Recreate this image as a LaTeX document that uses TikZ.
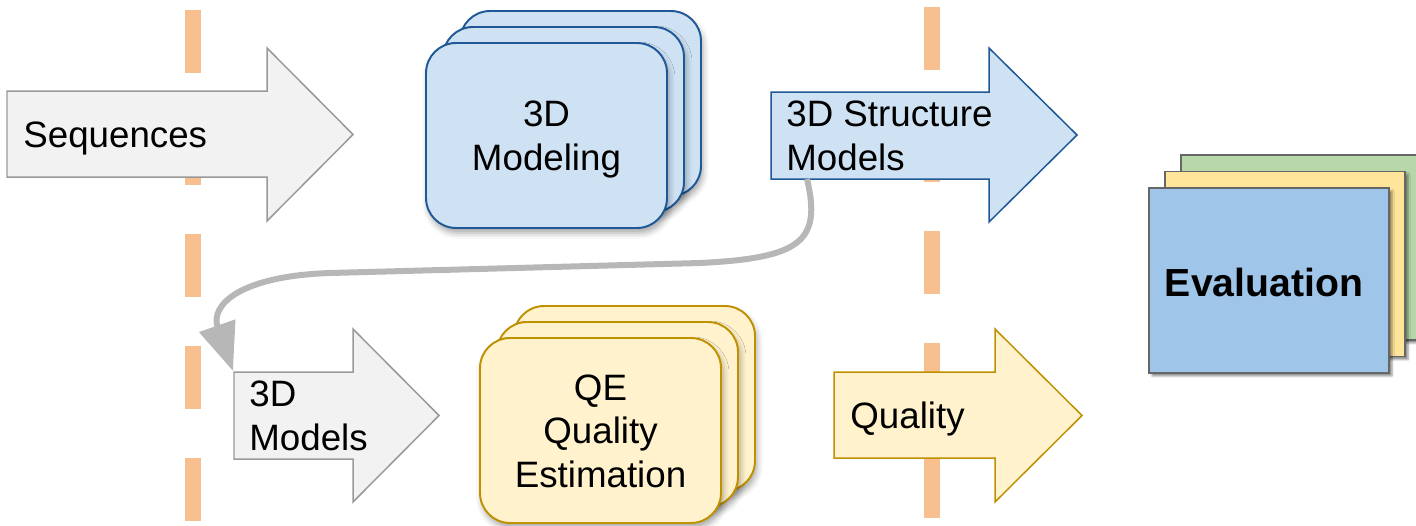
\documentclass[tikz,border=0pt]{standalone}
\usepackage{fontspec}
\setmainfont{Liberation Sans}
\usetikzlibrary{shadows.blur, arrows.meta}
\definecolor{dashor}{RGB}{249,192,143}
\definecolor{grayfill}{RGB}{242,242,242}
\definecolor{grayline}{RGB}{153,153,153}
\definecolor{bluefill}{RGB}{207,226,243}
\definecolor{blueline}{RGB}{30,88,150}
\definecolor{yelfill}{RGB}{255,242,204}
\definecolor{yelline}{RGB}{191,144,0}
\definecolor{evblue}{RGB}{159,197,232}
\definecolor{evyellow}{RGB}{255,229,153}
\definecolor{evgreen}{RGB}{182,215,168}
\definecolor{evline}{RGB}{102,102,102}
\definecolor{curvegray}{RGB}{183,183,183}
\begin{document}
\begin{tikzpicture}[x=0.02cm, y=-0.02cm,
  lab/.style={font=\fontsize{20.9}{24.5}\selectfont, inner sep=0pt, align=left},
  labc/.style={lab, align=center},
  fatarrow/.style={line width=0.85pt, line join=miter},
  grayarrow/.style={fatarrow, draw=grayline, fill=grayfill},
  bluearrow/.style={fatarrow, draw=blueline, fill=bluefill},
  yelarrow/.style={fatarrow, draw=yelline, fill=yelfill},
  card/.style={rounded corners=0.6cm, line width=1.1pt, minimum width=4.82cm,
    minimum height=3.7cm, inner sep=0pt,
    blur shadow={shadow xshift=0.04cm, shadow yshift=-0.1cm, shadow blur radius=0.12cm, shadow opacity=35}},
  bluecard/.style={card, draw=blueline, fill=bluefill},
  yelcard/.style={card, draw=yelline, fill=yelfill},
  evrect/.style={line width=1.1pt, draw=evline, minimum width=4.8cm, minimum height=3.7cm, inner sep=0pt,
    blur shadow={shadow xshift=0.06cm, shadow yshift=-0.06cm, shadow blur radius=0.04cm, shadow opacity=45}},
  orangedash/.style={draw=dashor, line width=0.32cm, dash pattern=on 1.27cm off 0.97cm},
  backcurve/.style={draw=curvegray, line width=0.12cm, -{Triangle[length=0.96cm, width=0.74cm]}},
]
\useasboundingbox (0,0) rectangle (1416,525);

% dashed orange separators
\coordinate (d1top) at (193,10);
\coordinate (d1bot) at (193,522);
\coordinate (d2top) at (932,7);
\coordinate (d2bot) at (932,520);
\draw[orangedash] (d1top) -- (d1bot);
\draw[orangedash] (d2top) -- (d2bot);

% Sequences arrow
\draw[grayarrow] (7,91) -- (267,91) -- (267,48) -- (353,134.5) -- (267,221) -- (267,177) -- (7,177) -- cycle;
\node[lab, anchor=base west] (seq) at (23,147) {Sequences};

% 3D Modeling stack
\node[bluecard] (mod3) at (580.5,103.5) {};
\node[bluecard] (mod2) at (563.5,119.5) {};
\node[bluecard] (mod1) at (546.5,135.5) {};
\node[labc, anchor=base] (modt) at (546.5,170) {3D\\Modeling};

% 3D Structure Models arrow
\draw[bluearrow] (771,92) -- (989,92) -- (989,48) -- (1077,135) -- (989,222) -- (989,179) -- (771,179) -- cycle;
\node[lab, anchor=base west] (smt) at (786,170) {3D Structure\\Models};

% 3D Models arrow
\draw[grayarrow] (234,372) -- (353,372) -- (353,329) -- (439,415.5) -- (353,502) -- (353,459) -- (234,459) -- cycle;
\node[lab, anchor=base west] (mdt) at (249,450) {3D\\Models};

% QE stack
\node[yelcard] (qe3) at (634.5,398.5) {};
\node[yelcard] (qe2) at (617.5,414.5) {};
\node[yelcard] (qe1) at (600.5,430.5) {};
\node[labc, anchor=base] (qet) at (600.5,487) {QE\\Quality\\Estimation};

% Quality arrow
\draw[yelarrow] (834,372) -- (995,372) -- (995,329) -- (1082,415.5) -- (995,502) -- (995,458) -- (834,458) -- cycle;
\node[lab, anchor=base west] (qt) at (850,428) {Quality};

% Evaluation stack
\node[evrect, fill=evgreen] (ev3) at (1301,247.5) {};
\node[evrect, fill=evyellow] (ev2) at (1285,264) {};
\node[evrect, fill=evblue] (ev1) at (1269,280.5) {};
\node[font=\bfseries\fontsize{22.3}{26}\selectfont, inner sep=0pt, anchor=base] (evt) at (1264,296) {Evaluation};

% feedback curve
\coordinate (smfoot) at (807,179);
\coordinate (mdcorner) at (233,371);
\draw[backcurve] (smfoot) .. controls (822,242) and (800,258) .. (700,263)
  -- (330,273) .. controls (240,276) and (210,305) .. (mdcorner);
\end{tikzpicture}
\end{document}
